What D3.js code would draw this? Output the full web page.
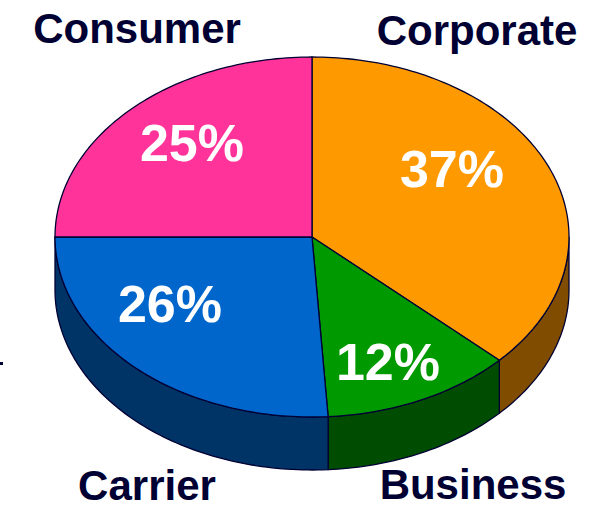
<!DOCTYPE html>
<html>
<head>
<meta charset="utf-8">
<script src="https://cdn.jsdelivr.net/npm/d3@7"></script>
<style>
  body { margin: 0; background: #fff; }
  text { font-family: "Liberation Sans", Arial, sans-serif; font-weight: bold; }
</style>
</head>
<body>
<div id="canvas"></div>
<script>
const categories = ["Corporate", "Business", "Carrier", "Consumer"];
const shares = [37, 12, 26, 25];
const topColors = ["#ff9900", "#009900", "#0066cc", "#ff3399"];
const sideColors = ["#7f4c00", "#004c00", "#003366", "#7f194c"];

const W = 593, H = 509;
const cx = 312, cy = 237, rx = 257, ry = 180, depth = 53;

const svg = d3.select("#canvas").append("svg")
  .attr("width", W).attr("height", H);

// 角度: 從 12 點鐘方向順時針
const pie = d3.pie().sort(null).value(d => d);
const arcs = pie(shares);

function pt(a, dy) {
  return [cx + rx * Math.sin(a), cy - ry * Math.cos(a) + (dy || 0)];
}

function arcPts(a0, a1, dy) {
  const n = Math.max(2, Math.ceil(Math.abs(a1 - a0) / 0.02));
  const pts = [];
  for (let i = 0; i <= n; i++) pts.push(pt(a0 + (a1 - a0) * i / n, dy));
  return pts;
}

// 側面 (只畫前半部 90°~270°)
arcs.forEach((d, i) => {
  const a0 = Math.max(d.startAngle, Math.PI / 2);
  const a1 = Math.min(d.endAngle, Math.PI * 1.5);
  if (a1 <= a0) return;
  const pts = arcPts(a0, a1, 0).concat(arcPts(a1, a0, depth));
  svg.append("path")
    .attr("d", d3.line()(pts) + "Z")
    .attr("fill", sideColors[i])
    .attr("stroke", "#000033")
    .attr("stroke-width", 1.3)
    .attr("stroke-linejoin", "round");
});

// 頂面
arcs.forEach((d, i) => {
  const pts = [[cx, cy]].concat(arcPts(d.startAngle, d.endAngle, 0));
  svg.append("path")
    .attr("d", d3.line()(pts) + "Z")
    .attr("fill", topColors[i])
    .attr("stroke", "#000033")
    .attr("stroke-width", 1.3)
    .attr("stroke-linejoin", "round");
});

// 百分比
const pctPos = [[452, 187], [388, 380], [170, 322], [192, 161]];
arcs.forEach((d, i) => {
  svg.append("text")
    .attr("x", pctPos[i][0]).attr("y", pctPos[i][1])
    .attr("text-anchor", "middle")
    .attr("fill", "#fff")
    .attr("font-size", 52)
    .text(d.data + "%");
});

// 類別名稱
const labelPos = [[477, 45], [473, 499], [147, 500], [137, 43]];
categories.forEach((c, i) => {
  svg.append("text")
    .attr("x", labelPos[i][0]).attr("y", labelPos[i][1])
    .attr("text-anchor", "middle")
    .attr("fill", "#000033")
    .attr("font-size", 42)
    .text(c);
});

svg.append("rect").attr("x", 0).attr("y", 362).attr("width", 3).attr("height", 3).attr("fill", "#000033");
</script>
</body>
</html>
